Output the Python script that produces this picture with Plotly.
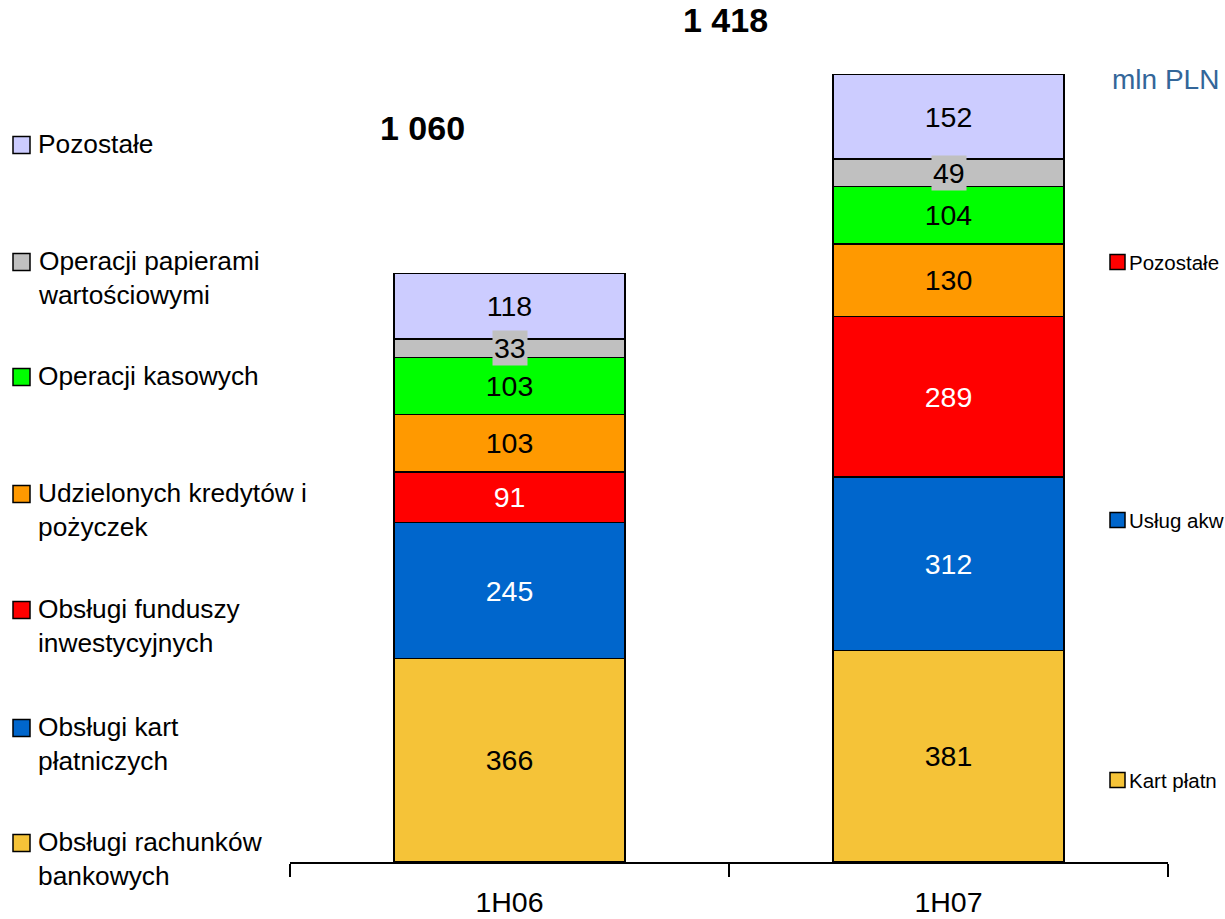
import plotly.graph_objects as go

categories = ["1H06", "1H07"]

series_names = [
    "Obsługi rachunków<br>bankowych",
    "Obsługi kart<br>płatniczych",
    "Obsługi funduszy<br>inwestycyjnych",
    "Udzielonych kredytów i<br>pożyczek",
    "Operacji kasowych",
    "Operacji papierami<br>wartościowymi",
    "Pozostałe",
]
rachunki = [366, 381]
karty = [245, 312]
fundusze = [91, 289]
kredyty = [103, 130]
kasowe = [103, 104]
papiery = [33, 49]
pozostale = [118, 152]
series_values = [rachunki, karty, fundusze, kredyty, kasowe, papiery, pozostale]

totals = [1060, 1418]

right_labels = ["Kart płatn", "Usług akw", "Pozostałe"]

colors = ["#F5C338", "#0066CC", "#FF0000", "#FF9900", "#00FF00", "#C0C0C0", "#CCCCFF"]
text_colors = ["black", "white", "white", "black", "black", "black", "black"]
right_colors = ["#F5C338", "#0066CC", "#FF0000"]

FONT = "Liberation Sans, Arial, sans-serif"

W, H = 1225, 919
ML, MR, MT, MB = 290, 57, 28, 57
PW, PH = W - ML - MR, H - MT - MB


def px(xp):
    return (xp - ML) / PW


def py(yp):
    return (H - MB - yp) / PH


fig = go.Figure()
for i, (name, vals) in enumerate(zip(series_names, series_values)):
    is_thin = name.startswith("Operacji papierami")
    fig.add_trace(go.Bar(
        x=categories, y=vals, name=name,
        marker=dict(color=colors[i], line=dict(color="black", width=1.5)),
        width=0.526,
        text=None if is_thin else [str(v) for v in vals],
        textposition="inside", insidetextanchor="middle",
        textangle=0, constraintext="none",
        insidetextfont=dict(family=FONT, size=28.5, color=text_colors[i]),
        showlegend=False,
    ))

annotations = []
shapes = []

# labels for the thin grey segment with grey background box
for j, cat in enumerate(categories):
    base = sum(series_values[k][j] for k in range(5))
    v = papiery[j]
    annotations.append(dict(
        x=cat, y=base + v / 2, xref="x", yref="y", text=str(v), showarrow=False,
        font=dict(family=FONT, size=28.5, color="black"), bgcolor="#C0C0C0",
        borderpad=1,
    ))

# totals
total_pos = [(422, 128), (725, 20)]
for t, (xp, yp) in zip(totals, total_pos):
    s = f"{t:,}".replace(",", " ")
    annotations.append(dict(
        x=px(xp), y=py(yp), xref="paper", yref="paper", text=f"<b>{s}</b>",
        showarrow=False, font=dict(family=FONT, size=34, color="black"),
        xanchor="center", yanchor="middle",
    ))

# unit
annotations.append(dict(
    x=px(1110), y=py(80), xref="paper", yref="paper", text="mln PLN",
    showarrow=False, font=dict(family=FONT, size=28, color="#336699"),
    xanchor="left", yanchor="middle",
))

# left legend (top to bottom)
legend_y = [843, 728, 610, 494, 377, 262, 145]
for i, name in enumerate(series_names):
    yc = legend_y[i]
    shapes.append(dict(
        type="rect", xref="paper", yref="paper",
        x0=px(13), x1=px(30), y0=py(yc - 8.5), y1=py(yc + 8.5),
        fillcolor=colors[i], line=dict(color="black", width=1.5),
    ))
    annotations.append(dict(
        x=px(36), y=py(yc - 18), xref="paper", yref="paper", text=name,
        showarrow=False, align="left", xanchor="left", yanchor="top",
        font=dict(family=FONT, size=26.3, color="black"),
    ))

# right-side labels
right_y = [780, 520, 262]
for lab, col, yc in zip(right_labels, right_colors, right_y):
    shapes.append(dict(
        type="rect", xref="paper", yref="paper",
        x0=px(1110), x1=px(1125), y0=py(yc - 7.5), y1=py(yc + 7.5),
        fillcolor=col, line=dict(color="black", width=1.5),
    ))
    annotations.append(dict(
        x=px(1127), y=py(yc), xref="paper", yref="paper", text=lab,
        showarrow=False, xanchor="left", yanchor="middle",
        font=dict(family=FONT, size=20.5, color="black"),
    ))

fig.update_layout(
    template="none",
    barmode="stack",
    width=W, height=H, autosize=False,
    margin=dict(l=ML, r=MR, t=MT, b=MB, pad=0, autoexpand=False),
    paper_bgcolor="white", plot_bgcolor="white",
    font=dict(family=FONT, color="black"),
    xaxis=dict(
        type="category", range=[-0.5, 1.5], showline=True, linecolor="black",
        linewidth=2, ticks="outside", tickson="boundaries", ticklen=13,
        tickwidth=1.5, tickcolor="black", showgrid=False, zeroline=False,
        tickfont=dict(family=FONT, size=28.5, color="black"),
        ticklabelstandoff=14, automargin=False,
    ),
    yaxis=dict(visible=False, range=[0, PH / 0.5557], showgrid=False,
               zeroline=False, automargin=False),
    annotations=annotations,
    shapes=shapes,
    showlegend=False,
)

fig.write_html(
    "out.html",
    config={"displayModeBar": False, "responsive": False},
    post_script=(
        "var s=document.documentElement.style;s.margin='0';s.padding='0';s.overflow='hidden';"
        "var b=document.body.style;b.margin='0';b.padding='0';b.overflow='hidden';"
    ),
)
